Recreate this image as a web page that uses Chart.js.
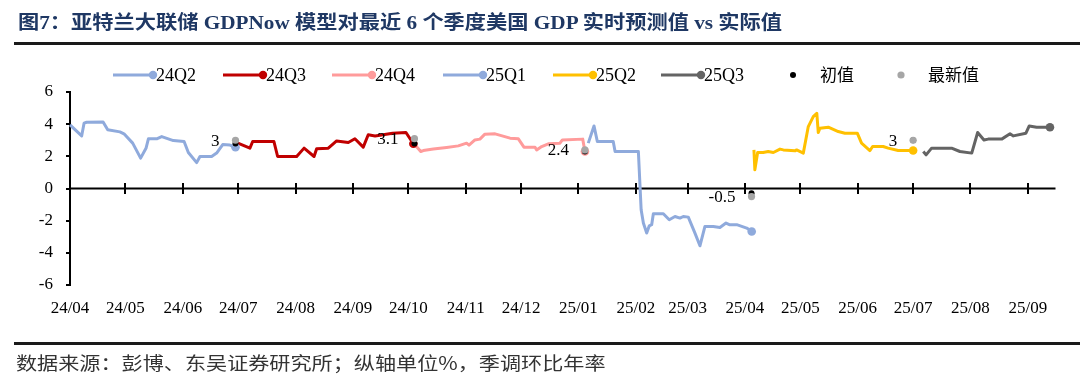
<!DOCTYPE html>
<html><head><meta charset="utf-8">
<script src="https://cdn.jsdelivr.net/npm/chart.js@4"></script>
<style>
html,body{margin:0;padding:0;background:#fff;width:1080px;height:379px;overflow:hidden;}
#wrap{position:relative;width:1080px;height:379px;}
#title{position:absolute;left:18px;top:13px;font-weight:bold;font-size:19px;line-height:20px;font-family:"Liberation Serif","Noto Sans CJK SC",serif;color:#1F3864;white-space:nowrap;transform-origin:0 0;}
#tline{position:absolute;left:14px;top:42px;width:1066px;height:3px;background:#1a1a1a;}
#fline{position:absolute;left:14px;top:342px;width:1066px;height:3px;background:#1a1a1a;}
#foot{position:absolute;left:16px;top:353px;font-size:18px;line-height:19px;font-family:"Noto Sans CJK SC",sans-serif;color:#333;white-space:nowrap;transform-origin:0 0;}
canvas{position:absolute;left:0;top:0;}
</style></head>
<body><div id="wrap">
<canvas id="c" width="1080" height="379"></canvas>
<div id="title">图7：亚特兰大联储 GDPNow 模型对最近 6 个季度美国 GDP 实时预测值 vs 实际值</div>
<div id="tline"></div>
<div id="fline"></div>
<div id="foot">数据来源：彭博、东吴证券研究所；纵轴单位%，季调环比年率</div>
</div>
<script>
// x values: days since 2024-04-01
const monthStartDays = [0,30,61,91,122,153,183,214,244,275,306,334,365,395,426,456,487,518];
const tickLabels = ['24/04','24/05','24/06','24/07','24/08','24/09','24/10','24/11','24/12','25/01','25/02','25/03','25/04','25/05','25/06','25/07','25/08','25/09'];
const yTicks = [-6,-4,-2,0,2,4,6];

const seriesNames = ['24Q2','24Q3','24Q4','25Q1','25Q2','25Q3'];

const s24Q2Day = [0,6.3,7.6,9.0,17.9,20.4,27.0,29.2,33.9,38.2,41.1,42.4,46.9,49.6,55.9,61.7,64.0,68.5,70.3,76.6,79.3,82.6,86.5,89.5];
const s24Q2Val = [3.96,3.27,4.06,4.12,4.14,3.65,3.52,3.40,2.82,1.89,2.50,3.09,3.09,3.23,2.98,2.92,2.24,1.61,1.99,1.99,2.20,2.73,2.70,2.57];

const s24Q3Day = [89.5,97.3,98.8,110.3,112.3,122.6,126.6,132.0,133.4,139.7,144.2,150.5,154.1,158.6,161.3,165.0,174.5,181.7,185.7];
const s24Q3Val = [2.88,2.51,2.92,2.92,1.99,1.99,2.51,1.99,2.47,2.51,2.96,2.86,3.09,2.57,3.34,3.27,3.44,3.48,2.78];

const s24Q4Day = [186.3,189.7,191.1,196.5,203.7,210.0,214.5,215.8,219.0,221.7,224.4,229.9,238.0,242.5,245.5,251.5,252.4,255.1,258.7,265.0,266.3,277.3,278.5];
const s24Q4Val = [2.75,2.30,2.36,2.45,2.55,2.65,2.82,2.70,3.02,3.07,3.38,3.40,3.13,3.09,2.57,2.57,2.40,2.61,2.78,2.82,3.02,3.07,2.30];

const s25Q1Day = [280.3,283.4,285.2,293.8,294.8,307.4,308.9,310.1,311.9,313.3,314.6,315.5,320.9,324.1,327.2,329.9,331.7,334.4,338.0,340.7,343.4,347.9,351.5,354.8,356.6,360.6,366.0,368.7];
const s25Q1Val = [2.82,3.89,2.92,2.92,2.30,2.30,-1.32,-2.15,-2.77,-2.32,-2.25,-1.57,-1.57,-1.94,-1.74,-1.84,-1.74,-1.78,-2.77,-3.56,-2.36,-2.36,-2.42,-2.15,-2.25,-2.25,-2.46,-2.67];

const s25Q2Day = [369.9,370.4,371.9,374.9,377.6,380.4,384.0,385.8,392.1,393.0,396.6,399.3,402.0,403.9,404.7,405.6,410.1,415.5,419.1,425.8,428.1,432.6,434.1,439.8,442.5,447.9,456.0];
const s25Q2Val = [2.40,1.16,2.24,2.24,2.30,2.24,2.45,2.40,2.34,2.40,2.20,3.85,4.47,4.68,3.48,3.75,3.81,3.54,3.44,3.44,2.82,2.36,2.61,2.61,2.51,2.36,2.36];

const s25Q3Day = [461.5,463.0,466.0,476.8,481.3,487.7,490.9,494.3,496.6,503.9,508.4,510.2,517.0,518.8,522.8,530.0];
const s25Q3Val = [2.30,2.09,2.51,2.51,2.30,2.20,3.48,3.02,3.07,3.07,3.40,3.27,3.44,3.89,3.81,3.81];

const releaseDays = [89.5,186.3,278.5,368.6,456.0];
const initialVals = [2.8,2.8,2.3,-0.3,3.0];
const latestVals  = [3.0,3.1,2.4,-0.5,3.0];
const latestLabels = ['3','3.1','2.4','-0.5','3'];

const seriesColors = ['#8FAADC','#C00000','#FF9B9B','#8FAADC','#FFC000','#646464'];
const initialColor = '#000000';
const latestColor = '#A6A6A6';

const seriesDays = [s24Q2Day,s24Q3Day,s24Q4Day,s25Q1Day,s25Q2Day,s25Q3Day];
const seriesVals = [s24Q2Val,s24Q3Val,s24Q4Val,s25Q1Val,s25Q2Val,s25Q3Val];

function pts(days, vals){ return days.map((d,i)=>({x:d,y:vals[i]})); }

const datasets = [];
datasets.push({label:'最新值', data:pts(releaseDays,latestVals), showLine:false, pointRadius:3.6, pointBackgroundColor:latestColor, pointBorderWidth:0, borderColor:latestColor, order:0});
datasets.push({label:'初值', data:pts(releaseDays,initialVals), showLine:false, pointRadius:3, pointBackgroundColor:initialColor, pointBorderWidth:0, borderColor:initialColor, order:1});
seriesNames.forEach((n,k)=>{
  const len = seriesDays[k].length;
  datasets.push({label:n, data:pts(seriesDays[k],seriesVals[k]), borderColor:seriesColors[k], backgroundColor:seriesColors[k],
    borderWidth:3, tension:0, fill:false, clip:false, borderJoinStyle:'round',
    pointRadius:(c)=> c.dataIndex===len-1 ? 4.3 : 0, pointBackgroundColor:seriesColors[k], pointBorderWidth:0, order:2+k});
});

const zeroAxis = {
  id:'zeroAxis',
  beforeDatasetsDraw(chart){
    const {ctx, chartArea, scales:{x,y}} = chart;
    const y0 = y.getPixelForValue(0);
    ctx.save();
    ctx.strokeStyle='#000'; ctx.lineWidth=2;
    ctx.beginPath(); ctx.moveTo(chartArea.left,y0); ctx.lineTo(chartArea.right,y0); ctx.stroke();
    ctx.beginPath();
    monthStartDays.forEach((d,i)=>{ if(i===0) return; const px=Math.round(x.getPixelForValue(d)); ctx.moveTo(px,y0-5.5); ctx.lineTo(px,y0+5.5); });
    ctx.stroke();
    ctx.restore();
  }
};

const labelsAndLegend = {
  id:'labelsAndLegend',
  afterDraw(chart){
    const {ctx} = chart;
    ctx.save();
    const meta = chart.getDatasetMeta(0);
    ctx.font = '17px "Liberation Serif"';
    ctx.fillStyle = '#000'; ctx.textAlign='right'; ctx.textBaseline='middle';
    meta.data.forEach((el,i)=>{ ctx.fillText(latestLabels[i], el.x-16, el.y+1); });
    const ly = 75;
    const starts = [113,223,332,443,553,661];
    ctx.textAlign='left';
    seriesNames.forEach((n,k)=>{
      const x0 = starts[k], x1 = x0+40;
      ctx.strokeStyle = seriesColors[k]; ctx.lineWidth = 3;
      ctx.beginPath(); ctx.moveTo(x0,ly); ctx.lineTo(x1,ly); ctx.stroke();
      ctx.fillStyle = seriesColors[k];
      ctx.beginPath(); ctx.arc(x1,ly,4.2,0,Math.PI*2); ctx.fill();
      ctx.fillStyle = '#000'; ctx.font = '18px "Liberation Serif"';
      ctx.fillText(n, x1+3, ly+1);
    });
    const extra = [{x:793,c:initialColor,r:3,t:'初值'},{x:901,c:latestColor,r:3.6,t:'最新值'}];
    extra.forEach(e=>{
      ctx.fillStyle=e.c; ctx.beginPath(); ctx.arc(e.x,ly,e.r,0,Math.PI*2); ctx.fill();
      ctx.fillStyle='#000'; ctx.font='17px "Noto Sans CJK SC"';
      ctx.fillText(e.t, e.x+27, ly);
    });
    ctx.restore();
  }
};

new Chart(document.getElementById('c'), {
  type:'line',
  data:{datasets},
  options:{
    responsive:false, animation:false, devicePixelRatio:1,
    layout:{padding:{left:0,right:24.5,top:92,bottom:0}},
    plugins:{legend:{display:false}, tooltip:{enabled:false}},
    scales:{
      x:{type:'linear', min:0, max:533,
        afterBuildTicks:(s)=>{ s.ticks = monthStartDays.map(v=>({value:v})); },
        afterFit:(s)=>{ s.height = 94; },
        grid:{display:false, drawTicks:false}, border:{display:false},
        ticks:{autoSkip:false, maxRotation:0, minRotation:0, padding:13, color:'#000',
          font:{family:'Liberation Serif', size:17},
          callback:(v,i)=>tickLabels[i]}
      },
      y:{min:-6, max:6,
        afterBuildTicks:(s)=>{ s.ticks = yTicks.map(v=>({value:v})); },
        afterFit:(s)=>{ s.width = 70; },
        grid:{drawOnChartArea:false, drawTicks:true, tickLength:4, color:'#000', lineWidth:2},
        border:{display:true, color:'#000', width:2},
        ticks:{padding:13, color:'#000', font:{family:'Liberation Serif', size:17}, callback:(v)=>String(v)}
      }
    }
  },
  plugins:[zeroAxis, labelsAndLegend]
});

function fit(){
  const t=document.getElementById('title'); t.style.transform='scaleX('+(764/t.offsetWidth)+')';
  const f=document.getElementById('foot'); f.style.transform='scaleX('+(590/f.offsetWidth)+')';
}
fit();
if(document.fonts && document.fonts.ready) document.fonts.ready.then(fit);
</script>
</body></html>
